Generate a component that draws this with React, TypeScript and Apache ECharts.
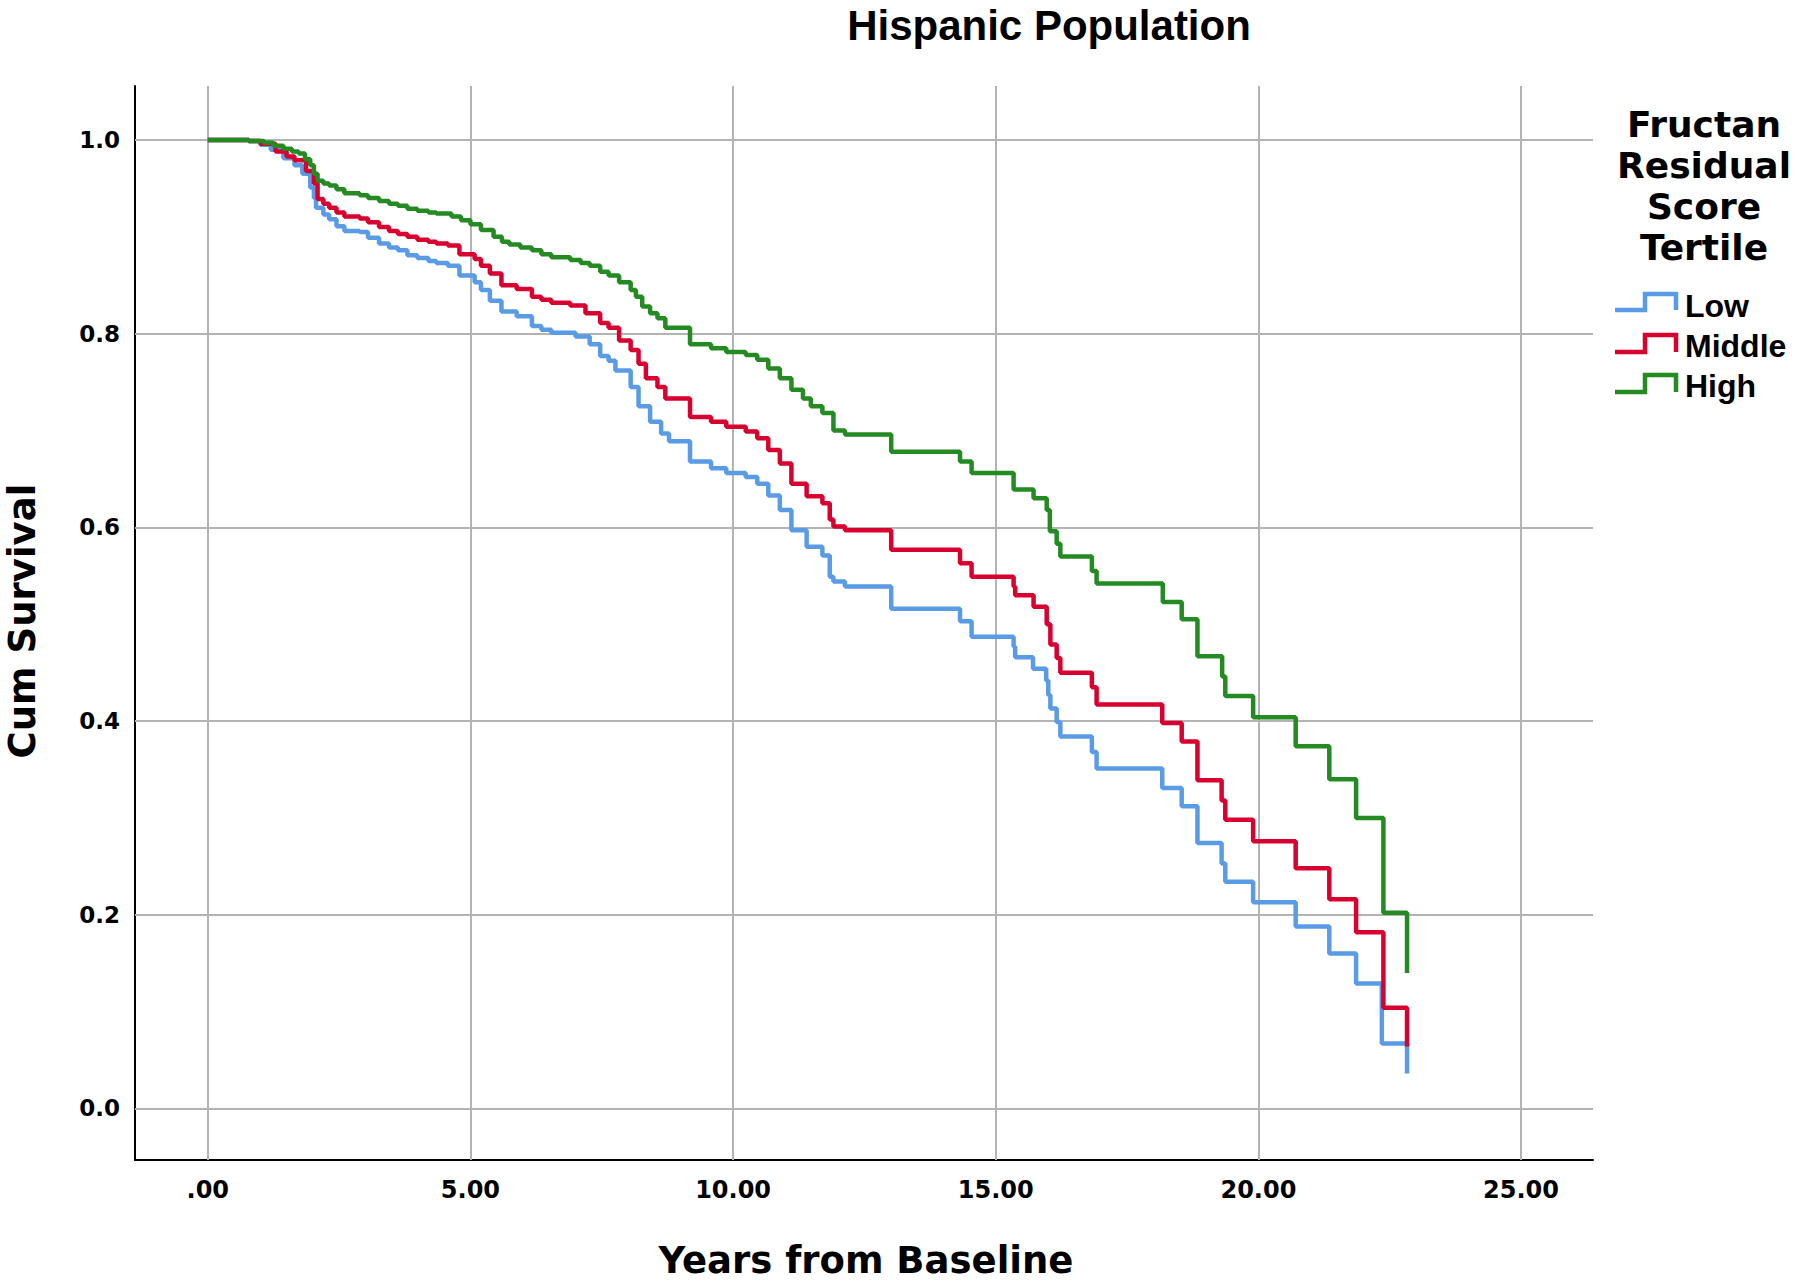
import React, { useEffect, useRef } from "react";
import * as echarts from "echarts";

// Kaplan-Meier curves: [years, cumulative survival after the step]
const lowCurve: [number, number][] = [
  [0, 1.0], [0.78, 0.999], [1.0, 0.995], [1.2, 0.99], [1.44, 0.981], [1.65, 0.974], [1.8, 0.965],
  [1.95, 0.951], [2.02, 0.94], [2.06, 0.93], [2.2, 0.923], [2.31, 0.918], [2.45, 0.911], [2.6, 0.906],
  [2.89, 0.905], [3.05, 0.899], [3.26, 0.893], [3.45, 0.889], [3.62, 0.886], [3.8, 0.881], [3.99, 0.878],
  [4.2, 0.875], [4.35, 0.873], [4.57, 0.87], [4.79, 0.86], [5.08, 0.853], [5.2, 0.845], [5.37, 0.834],
  [5.59, 0.823], [5.88, 0.818], [6.17, 0.808], [6.35, 0.804], [6.54, 0.801], [7.0, 0.797], [7.27, 0.789],
  [7.47, 0.777], [7.63, 0.772], [7.76, 0.762], [8.05, 0.745], [8.2, 0.725], [8.42, 0.709], [8.63, 0.697],
  [8.78, 0.689], [9.18, 0.668], [9.58, 0.661], [9.87, 0.656], [10.24, 0.652], [10.46, 0.645], [10.67, 0.633],
  [10.89, 0.618], [11.11, 0.597], [11.4, 0.58], [11.7, 0.571], [11.84, 0.549], [11.91, 0.544], [12.13, 0.539],
  [13.01, 0.516], [14.32, 0.503], [14.54, 0.487], [15.34, 0.477], [15.37, 0.466], [15.71, 0.454], [15.96, 0.442],
  [16.0, 0.427], [16.04, 0.413], [16.16, 0.399], [16.23, 0.384], [16.83, 0.368], [16.92, 0.351], [18.17, 0.331],
  [18.54, 0.312], [18.84, 0.274], [19.3, 0.253], [19.37, 0.234], [19.9, 0.213], [20.71, 0.188], [21.35, 0.16],
  [21.86, 0.129], [22.35, 0.067], [22.83, 0.036],
];

const middleCurve: [number, number][] = [
  [0, 1.0], [0.78, 0.999], [1.0, 0.996], [1.29, 0.988], [1.5, 0.983], [1.65, 0.979], [1.87, 0.968],
  [2.02, 0.955], [2.09, 0.939], [2.2, 0.934], [2.31, 0.93], [2.45, 0.925], [2.6, 0.921], [2.89, 0.919],
  [3.05, 0.915], [3.26, 0.91], [3.45, 0.906], [3.62, 0.903], [3.8, 0.9], [3.99, 0.897], [4.2, 0.895],
  [4.35, 0.893], [4.57, 0.891], [4.79, 0.882], [5.08, 0.877], [5.2, 0.87], [5.37, 0.862], [5.59, 0.85],
  [5.88, 0.846], [6.17, 0.838], [6.35, 0.835], [6.54, 0.832], [6.9, 0.829], [7.19, 0.821], [7.47, 0.811],
  [7.63, 0.806], [7.83, 0.793], [8.05, 0.783], [8.2, 0.769], [8.34, 0.754], [8.56, 0.745], [8.71, 0.733],
  [9.18, 0.714], [9.58, 0.709], [9.87, 0.704], [10.24, 0.699], [10.46, 0.692], [10.67, 0.68], [10.89, 0.666],
  [11.11, 0.645], [11.4, 0.632], [11.7, 0.625], [11.84, 0.608], [11.91, 0.601], [12.13, 0.597], [13.01, 0.577],
  [14.32, 0.563], [14.54, 0.549], [15.34, 0.539], [15.37, 0.53], [15.72, 0.518], [15.97, 0.5], [16.04, 0.479],
  [16.16, 0.465], [16.23, 0.45], [16.83, 0.435], [16.92, 0.417], [18.17, 0.398], [18.54, 0.379], [18.84, 0.339],
  [19.3, 0.318], [19.37, 0.298], [19.9, 0.276], [20.71, 0.248], [21.35, 0.216], [21.86, 0.182], [22.38, 0.104],
  [22.83, 0.064],
];

const highCurve: [number, number][] = [
  [0, 1.0], [0.78, 0.999], [1.07, 0.997], [1.25, 0.994], [1.44, 0.991], [1.6, 0.988], [1.73, 0.986],
  [1.85, 0.98], [1.95, 0.974], [2.02, 0.965], [2.09, 0.958], [2.2, 0.955], [2.31, 0.953], [2.45, 0.949],
  [2.6, 0.945], [2.89, 0.943], [3.05, 0.94], [3.26, 0.937], [3.45, 0.934], [3.62, 0.932], [3.8, 0.929],
  [3.99, 0.927], [4.2, 0.925], [4.35, 0.924], [4.64, 0.921], [4.82, 0.917], [5.0, 0.913], [5.2, 0.907],
  [5.44, 0.9], [5.6, 0.895], [5.74, 0.892], [5.95, 0.889], [6.17, 0.886], [6.35, 0.882], [6.54, 0.879],
  [6.9, 0.876], [7.1, 0.873], [7.27, 0.87], [7.47, 0.864], [7.63, 0.86], [7.83, 0.853], [8.05, 0.845],
  [8.15, 0.838], [8.27, 0.828], [8.42, 0.821], [8.56, 0.816], [8.71, 0.806], [9.18, 0.789], [9.58, 0.785],
  [9.87, 0.781], [10.24, 0.778], [10.46, 0.773], [10.67, 0.764], [10.89, 0.754], [11.11, 0.742], [11.33, 0.733],
  [11.48, 0.725], [11.7, 0.718], [11.91, 0.7], [12.13, 0.696], [13.01, 0.678], [14.32, 0.668], [14.54, 0.656],
  [15.34, 0.639], [15.72, 0.63], [15.97, 0.618], [16.03, 0.596], [16.16, 0.583], [16.23, 0.57], [16.83, 0.555],
  [16.92, 0.542], [18.18, 0.523], [18.54, 0.505], [18.84, 0.467], [19.31, 0.446], [19.37, 0.426], [19.9, 0.404],
  [20.71, 0.374], [21.35, 0.34], [21.86, 0.3], [22.38, 0.202], [22.83, 0.14],
];

const seriesNames = ["Low", "Middle", "High"];
const seriesColors = ["#5A9BE6", "#D7002F", "#248A22"];
const xGridValues = [0, 5, 10, 15, 20, 25];
const yGridValues = [0, 0.2, 0.4, 0.6, 0.8, 1.0];
const xRange = [-1.386, 26.37];
const yRange = [-0.0532, 1.0557];
const titleText = "Hispanic Population";
const xAxisTitle = "Years from Baseline";
const yAxisTitle = "Cum Survival";
const legendTitleLines = ["Fructan", "Residual", "Score", "Tertile"];

const WIDE = '"DejaVu Sans", sans-serif';
const ARIAL = '"Liberation Sans", Arial, sans-serif';

export default function App() {
  const ref = useRef<HTMLDivElement>(null);

  useEffect(() => {
    if (!ref.current) return;
    const chart = echarts.init(ref.current, null, { renderer: "svg" });
    const curves = [lowCurve, middleCurve, highCurve];

    const legendIconY = [[310, 294], [352, 335], [392, 375]];
    const legendTextY = [306, 346, 386];
    const graphic: any[] = [];
    seriesNames.forEach((name, i) => {
      const [lo, hi] = legendIconY[i];
      graphic.push({
        type: "polyline",
        shape: { points: [[1615, lo], [1645, lo], [1645, hi], [1676, hi], [1676, lo]] },
        style: { stroke: seriesColors[i], lineWidth: 4.5, fill: null },
        silent: true,
      });
      graphic.push({
        type: "text",
        x: 1685,
        y: legendTextY[i],
        style: {
          text: name,
          font: `bold 32px ${ARIAL}`,
          fill: "#000",
          align: "left",
          verticalAlign: "middle",
          textAlign: "left",
          textVerticalAlign: "middle",
        },
        silent: true,
      });
    });
    legendTitleLines.forEach((line, i) => {
      graphic.push({
        type: "text",
        x: 1704,
        y: 124 + i * 41,
        style: {
          text: line,
          font: `bold 36px ${WIDE}`,
          fill: "#000",
          align: "center",
          verticalAlign: "middle",
          textAlign: "center",
          textVerticalAlign: "middle",
        },
        silent: true,
      });
    });
    graphic.push({
      type: "text",
      x: 1049,
      y: 25,
      style: {
        text: titleText,
        font: `bold 42px ${ARIAL}`,
        fill: "#000",
        align: "center",
        verticalAlign: "middle",
        textAlign: "center",
        textVerticalAlign: "middle",
      },
      silent: true,
    });
    graphic.push({
      type: "text",
      x: 866,
      y: 1260,
      style: {
        text: xAxisTitle,
        font: `bold 37px ${WIDE}`,
        fill: "#000",
        align: "center",
        verticalAlign: "middle",
        textAlign: "center",
        textVerticalAlign: "middle",
      },
      silent: true,
    });
    graphic.push({
      type: "text",
      x: 22,
      y: 621,
      rotation: Math.PI / 2,
      style: {
        text: yAxisTitle,
        font: `bold 37px ${WIDE}`,
        fill: "#000",
        align: "center",
        verticalAlign: "middle",
        textAlign: "center",
        textVerticalAlign: "middle",
      },
      silent: true,
    });

    const gridLineData = [
      ...xGridValues.map((v) => ({ xAxis: v })),
      ...yGridValues.map((v) => ({ yAxis: v })),
    ];

    chart.setOption({
      animation: false,
      backgroundColor: "#ffffff",
      grid: { left: 135, right: 207, top: 86, bottom: 123 },
      xAxis: {
        type: "value",
        min: xRange[0],
        max: xRange[1],
        axisLine: { show: true, onZero: false, lineStyle: { color: "#000", width: 2 } },
        axisTick: { show: false },
        splitLine: { show: false },
        axisLabel: {
          showMinLabel: false,
          showMaxLabel: false,
          margin: 18,
          color: "#000",
          fontFamily: WIDE,
          fontWeight: "bold",
          fontSize: 24,
          formatter: (v: number) => (Math.abs(v) < 1e-9 ? ".00" : v.toFixed(2)),
        },
      },
      yAxis: {
        type: "value",
        min: yRange[0],
        max: yRange[1],
        axisLine: { show: true, onZero: false, lineStyle: { color: "#000", width: 2 } },
        axisTick: { show: false },
        splitLine: { show: false },
        axisLabel: {
          showMinLabel: false,
          showMaxLabel: false,
          margin: 15,
          color: "#000",
          fontFamily: WIDE,
          fontWeight: "bold",
          fontSize: 23,
          formatter: (v: number) => v.toFixed(1),
        },
      },
      graphic,
      series: curves.map((c, i) => ({
        name: seriesNames[i],
        type: "line",
        step: "end",
        data: c,
        showSymbol: false,
        symbol: "none",
        z: 2 + i,
        lineStyle: { width: 4.5, color: seriesColors[i] },
        itemStyle: { color: seriesColors[i] },
        emphasis: { disabled: true },
        markLine:
          i === 0
            ? {
                silent: true,
                z: 1,
                symbol: ["none", "none"],
                label: { show: false },
                emphasis: { disabled: true },
                lineStyle: { color: "#b3b3b3", width: 2, type: "solid" },
                data: gridLineData,
              }
            : undefined,
      })),
    });

    return () => chart.dispose();
  }, []);

  return (
    <div
      ref={ref}
      style={{ position: "absolute", left: 0, top: 0, width: 1800, height: 1283, background: "#fff" }}
    />
  );
}
